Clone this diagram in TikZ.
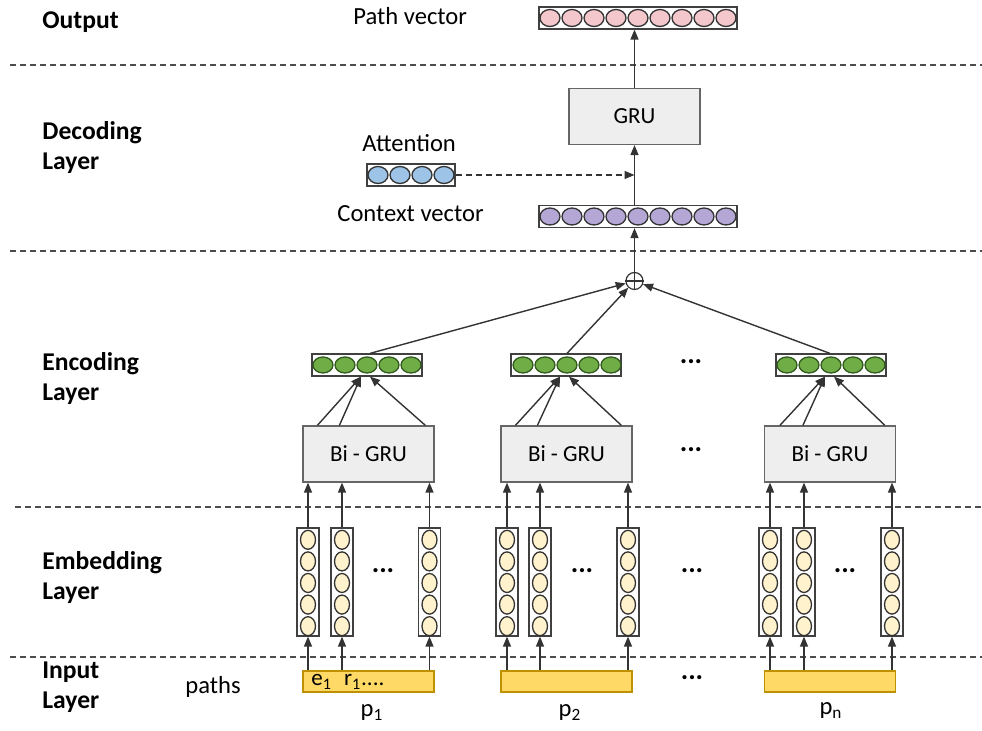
\documentclass[tikz,border=0pt]{standalone}
\usepackage{fontspec}
\setmainfont{Carlito}
\usetikzlibrary{arrows.meta,positioning,calc}

\definecolor{pathpink}{RGB}{244,199,204}
\definecolor{attblue}{RGB}{157,195,230}
\definecolor{ctxpurple}{RGB}{180,167,214}
\definecolor{encgreen}{RGB}{112,173,71}
\definecolor{encdark}{RGB}{50,90,30}
\definecolor{embcream}{RGB}{255,242,204}
\definecolor{bargold}{RGB}{255,217,102}
\definecolor{bardark}{RGB}{191,144,0}
\definecolor{blkgray}{RGB}{238,238,238}

\begin{document}
\begin{tikzpicture}[
    x=0.5pt, y=-0.5pt,
    every node/.style={font=\fontsize{12.3}{15}\selectfont},
    layer/.style={font=\bfseries\fontsize{12.8}{15}\selectfont,align=left,anchor=west,inner sep=0pt},
    hvec/.style={draw=black!75,line width=0.6pt,fill=white,minimum height=11pt,inner sep=0pt},
    vvec/.style={draw=black!75,line width=0.6pt,fill=white,minimum width=11pt,minimum height=54pt,inner sep=0pt},
    blk/.style={draw=black!60,fill=blkgray,line width=0.6pt,minimum width=65.5pt,minimum height=28pt,
                inner sep=0pt,font=\fontsize{11.5}{14}\selectfont},
    inbar/.style={draw=bardark,fill=bargold,line width=0.6pt,minimum width=65.5pt,minimum height=10.5pt,inner sep=0pt},
    cell/.style={draw=black!80,line width=0.65pt},
    line/.style={-{Triangle[length=5pt,width=4pt]},line width=0.7pt,black!80},
    layersep/.style={dash pattern=on 3pt off 2pt,black!70,line width=0.6pt},
    dots/.style={font=\bfseries\fontsize{14}{16}\selectfont}
]
\useasboundingbox (0,0) rectangle (982,731);

% Layer separators
\draw[layersep] (10,65) -- (982,65);
\draw[layersep] (10,251) -- (982,251);
\draw[layersep] (15,507) -- (982,507);
\draw[layersep] (10,657) -- (982,657);

% Layer names
\node[layer] (lout) at (42,22) {Output};
\node[layer] (ldec) at (42,148) {Decoding\\Layer};
\node[layer] (lenc) at (42,379) {Encoding\\Layer};
\node[layer] (lemb) at (42,578) {Embedding\\Layer};
\node[layer] (linp) at (42,687) {Input\\Layer};

% Output
\node[hvec,minimum width=99pt] (pv) at (638,18) {};
\foreach \i in {0,...,8} \draw[cell,fill=pathpink] (550+\i*22,18) ellipse (10 and 8.5);
\node[anchor=west,inner sep=0pt] (pvlab) at (353,16) {Path vector};

% Decoder
\node[blk] (gru) at (634.5,116.5) {GRU};
\node[hvec,minimum width=44pt] (att) at (411,175) {};
\foreach \i in {0,...,3} \draw[cell,fill=attblue] (378+\i*22,175) ellipse (10 and 8.5);
\node[anchor=west,inner sep=0pt] (attlab) at (362,143) {Attention};
\node[hvec,minimum width=99pt] (ctx) at (638,216.5) {};
\foreach \i in {0,...,8} \draw[cell,fill=ctxpurple] (550+\i*22,216.5) ellipse (10 and 8.5);
\node[anchor=west,inner sep=0pt] (ctxlab) at (337,214) {Context vector};

\draw[line] (gru.north) -- (gru.north |- pv.south);
\draw[line] (gru.south |- ctx.north) -- (gru.south);
\draw[line,dash pattern=on 3pt off 2pt] (att.east) -- (att.east -| gru.south);

% Sum of the path encodings
\node[circle,draw=black!80,fill=white,line width=0.6pt,minimum size=8.5pt,inner sep=0pt] (sum) at (634.5,281) {};
\draw[black!80,line width=0.6pt] (sum.north) -- (sum.south) (sum.west) -- (sum.east);
\draw[line] (sum.north) -- (sum.north |- ctx.south);

% Encoders
\node[hvec,minimum width=55pt] (enc1) at (367,365) {};
\node[hvec,minimum width=55pt] (enc2) at (566,365) {};
\node[hvec,minimum width=55pt] (enc3) at (831,365) {};
\foreach \x in {312,512,776}
  \foreach \i in {0,...,4} \draw[cell,draw=encdark,fill=encgreen] (\x+11+\i*22,365) ellipse (10 and 8);

\node[blk] (bg1) at (368.5,454) {Bi - GRU};
\node[blk] (bg2) at (566.5,454) {Bi - GRU};
\node[blk] (bg3) at (830,454) {Bi - GRU};

\draw[line] ($(enc1.north)+(3,0)$) -- (sum);
\draw[line] ($(enc2.north)+(1,0)$) -- (sum);
\draw[line] ($(enc3.north)+(-1,0)$) -- (sum);

\draw[line] ($(bg1.north west)+(15,0)$) -- ($(enc1.south)+(-6,0)$);
\draw[line] ($(bg1.north west)+(37,0)$) -- ($(enc1.south)+(-6,0)$);
\draw[line] ($(bg1.north west)+(123,0)$) -- ($(enc1.south)+(3,0)$);
\draw[line] ($(bg2.north west)+(15,0)$) -- ($(enc2.south)+(-6,0)$);
\draw[line] ($(bg2.north west)+(37,0)$) -- ($(enc2.south)+(-6,0)$);
\draw[line] ($(bg2.north west)+(121,0)$) -- ($(enc2.south)+(3,0)$);
\draw[line] ($(bg3.north west)+(16,0)$) -- ($(enc3.south)+(-6,0)$);
\draw[line] ($(bg3.north west)+(39,0)$) -- ($(enc3.south)+(-6,0)$);
\draw[line] ($(bg3.north west)+(121,0)$) -- ($(enc3.south)+(3,0)$);

\node[dots] (dotenc) at (691,362) {...};
\node[dots] (dotbg) at (691,450) {...};

% Embeddings
\node[vvec] (e11) at (308,582) {};
\node[vvec] (e12) at (342,582) {};
\node[vvec] (e13) at (429.5,582) {};
\node[vvec] (e21) at (507,582) {};
\node[vvec] (e22) at (540,582) {};
\node[vvec] (e23) at (628,582) {};
\node[vvec] (e31) at (770,582) {};
\node[vvec] (e32) at (804,582) {};
\node[vvec] (e33) at (892,582) {};
\foreach \x in {308,342,429.5,507,540,628,770,804,892}
  \foreach \i in {0,...,4} \draw[cell,fill=embcream] (\x,539.8+\i*21.6) ellipse (7.5 and 9.5);

\node[dots] (dote1) at (383,571) {...};
\node[dots] (dote2) at (582,571) {...};
\node[dots] (dote3) at (845,571) {...};
\node[dots] (dotemb) at (692,571) {...};

% Inputs
\node[inbar] (in1) at (368.5,681.5) {};
\node[inbar] (in2) at (566.5,681.5) {};
\node[inbar] (in3) at (830,681.5) {};
\node[anchor=base west,inner sep=0pt,font=\fontsize{11.5}{13}\selectfont] (in1txt) at (311,686)
    {e\textsubscript{1}\hspace{6pt}r\textsubscript{1}....};
\node[dots] (dotin) at (692,678) {...};
\node[anchor=west,inner sep=0pt] (paths) at (185,687) {paths};
\node (p1) at (372,713) {p\textsubscript{1}};
\node (p2) at (570,713) {p\textsubscript{2}};
\node (pn) at (831,711) {p\textsubscript{n}};

\foreach \g in {1,2,3}
  \foreach \c in {1,2,3} {
    \draw[line] (e\g\c |- in\g.north) -- (e\g\c.south);
    \draw[line] (e\g\c.north) -- (e\g\c |- bg\g.south);
  }

\end{tikzpicture}
\end{document}
